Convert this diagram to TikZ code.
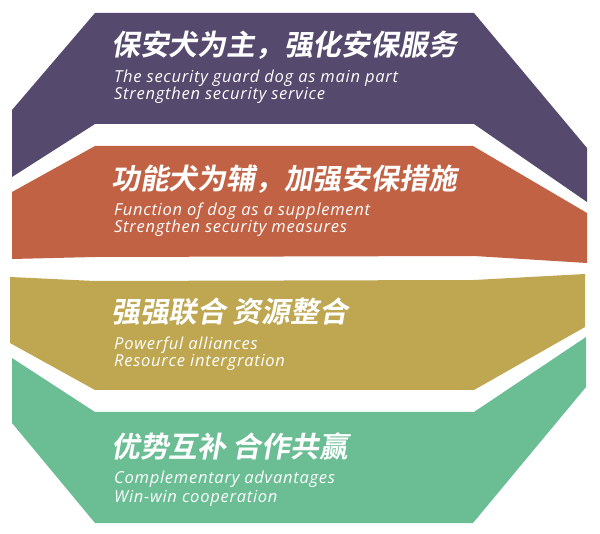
\documentclass[tikz,border=0pt]{standalone}
\usepackage{fontspec}
\setmainfont{Open Sans}
\newfontfamily\cjk[FakeSlant=0.18]{Noto Sans CJK SC Bold}
\newfontfamily\entxt[LetterSpace=4.5]{Open Sans}
\definecolor{purp}{HTML}{55496E}
\definecolor{oran}{HTML}{C26245}
\definecolor{gold}{HTML}{BEA750}
\definecolor{gren}{HTML}{6BBD94}
\begin{document}
\begin{tikzpicture}[x=1pt,y=-1pt,
  cn/.style={anchor=base west, text=white, font=\cjk\fontsize{28.8}{30}\selectfont, inner sep=0pt},
  en/.style={anchor=base west, text=white, font=\entxt\itshape\fontsize{16.5}{18}\selectfont, inner sep=0pt}]
\useasboundingbox (0,0) rectangle (600,534);
\fill[purp] (95,13) -- (474,13) -- (587,148) -- (587,202) -- (474,124) -- (95,124) -- (12,177) -- (12,110) -- cycle;
\fill[oran] (95,146) -- (473,146) -- (587,213) -- (587,263) -- (474,256) -- (95,257) -- (12,259) -- (12,192) -- cycle;
\fill[gold] (10,277) -- (95,281) -- (474,280) -- (585,274) -- (585,327) -- (474,390) -- (95,390) -- (10,343) -- cycle;
\fill[gren] (12,358) -- (95,412) -- (474,412) -- (586,337) -- (586,387) -- (473,523) -- (95,523) -- (12,423) -- cycle;
\node[cn] (t1) at (111,56) {保安犬为主，强化安保服务};
\node[en] (e1a) at (114,83) {The security guard dog as main part};
\node[en] (e1b) at (114,100) {Strengthen security service};
\node[cn] (t2) at (111,190) {功能犬为辅，加强安保措施};
\node[en] (e2a) at (114,216) {Function of dog as a supplement};
\node[en] (e2b) at (114,233) {Strengthen security measures};
\node[cn] (t3) at (111,323) {强强联合 资源整合};
\node[en] (e3a) at (114,350) {Powerful alliances};
\node[en] (e3b) at (114,367) {Resource intergration};
\node[cn] (t4) at (111,457) {优势互补 合作共赢};
\node[en] (e4a) at (114,484) {Complementary advantages};
\node[en] (e4b) at (114,502) {Win-win cooperation};
\end{tikzpicture}
\end{document}
